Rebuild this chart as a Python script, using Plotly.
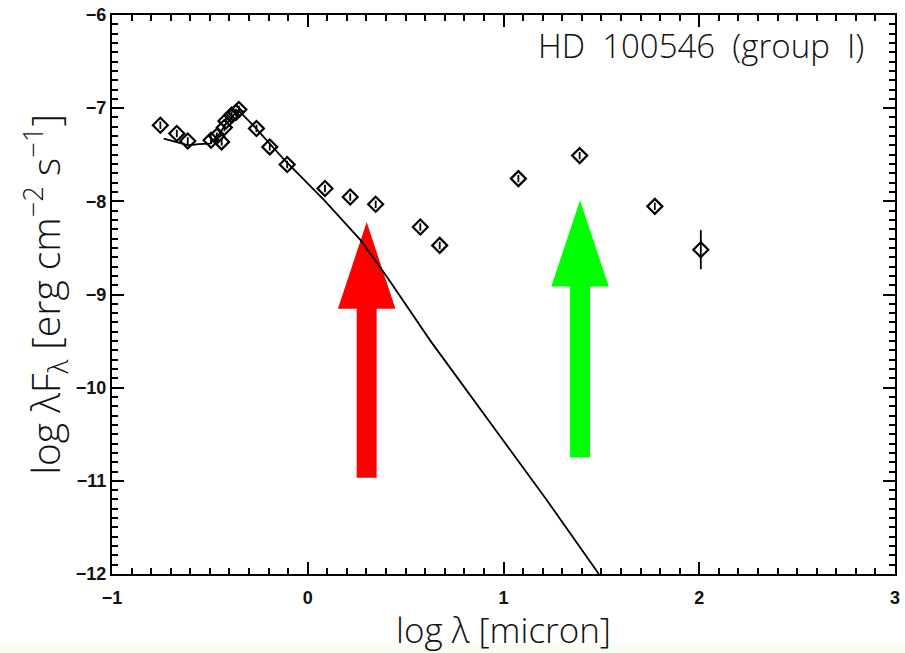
import plotly.graph_objects as go

# Photometry of HD 100546: log wavelength [micron] vs log lambda*F_lambda
log_wav = [-0.753, -0.669, -0.613, -0.494, -0.465, -0.440, -0.426, -0.418,
           -0.389, -0.367, -0.352, -0.262, -0.194, -0.105, 0.088, 0.217,
           0.347, 0.575, 0.674, 1.076, 1.389, 1.773, 2.008]
log_flux = [-7.183, -7.272, -7.352, -7.344, -7.301, -7.362, -7.208, -7.137,
            -7.075, -7.046, -7.014, -7.218, -7.416, -7.605, -7.863, -7.954,
            -8.032, -8.276, -8.473, -7.756, -7.509, -8.054, -8.519]
log_flux_err = [0.04] * 22 + [0.21]

# Stellar photosphere model
model_wav = [-0.736, -0.609, -0.558, -0.499, -0.457, -0.423, -0.364, -0.355,
             -0.271, -0.118, 0.085, 0.271, 0.406, 0.626, 1.218, 1.487]
model_flux = [-7.326, -7.398, -7.387, -7.380, -7.290, -7.183, -7.040, -7.022,
              -7.201, -7.559, -7.989, -8.419, -8.814, -9.495, -11.197, -12.0]

# Highlight arrows: (x, tip, head base, tail, colour)
arrows = [
    (0.301, -8.223, -9.154, -10.968, "#ff0000"),
    (1.391, -7.989, -8.914, -10.749, "#00ff00"),
]
head_half = 0.147   # half width of arrow head, in log-wavelength units
shaft_half = 0.051  # half width of arrow shaft

x_range = [-1, 3]
y_range = [-12, -6]

label_font = "'Open Sans', Lato, sans-serif"
tick_font = dict(family="Liberation Sans, Arial, sans-serif", size=18,
                 color="#111", weight=700)

fig = go.Figure()

fig.add_trace(go.Scatter(
    x=model_wav, y=model_flux, mode="lines",
    line=dict(color="black", width=1.8), showlegend=False, hoverinfo="skip",
))

fig.add_trace(go.Scatter(
    x=log_wav, y=log_flux, mode="markers",
    marker=dict(symbol="diamond-open", size=11.5, color="black",
                line=dict(width=2.2, color="black")),
    error_y=dict(type="data", array=log_flux_err, visible=True,
                 color="black", thickness=1.8, width=0),
    showlegend=False,
))

# empty trace that carries the overlaid minor-tick axes
fig.add_trace(go.Scatter(x=[None], y=[None], xaxis="x2", yaxis="y2",
                         showlegend=False, hoverinfo="skip"))

shapes = []
for xc, tip, base, tail, col in arrows:
    path = (f"M {xc - shaft_half},{tail} L {xc - shaft_half},{base} "
            f"L {xc - head_half},{base} L {xc},{tip} L {xc + head_half},{base} "
            f"L {xc + shaft_half},{base} L {xc + shaft_half},{tail} Z")
    shapes.append(dict(type="path", path=path, xref="x", yref="y",
                       fillcolor=col, line=dict(width=0), layer="below"))

# faint strip along the bottom of the page
shapes.append(dict(type="rect", xref="paper", yref="paper",
                   x0=-0.2, x1=1.1, y0=-0.145, y1=-0.125,
                   fillcolor="rgb(248,252,241)", line=dict(width=0), layer="below"))

axis_common = dict(
    showgrid=False, zeroline=False,
    showline=True, linecolor="black", linewidth=2,
    mirror="allticks", ticks="inside", ticklen=12, tickwidth=2,
    tickcolor="black", tickmode="linear", dtick=1,
)
minor_axis = dict(
    showgrid=False, zeroline=False, showline=False, showticklabels=False,
    mirror="allticks", ticks="inside", ticklen=6, tickwidth=1.5,
    tickcolor="black", tickmode="linear", dtick=0.1,
)

fig.update_layout(
    width=905, height=653,
    margin=dict(l=112, r=5, t=14, b=79),
    paper_bgcolor="white", plot_bgcolor="white",
    shapes=shapes,
    xaxis=dict(
        range=x_range, tick0=-1, tickfont=tick_font, ticklabelstandoff=6,
        title=dict(text="log λ [micron]",
                   font=dict(family=label_font, size=35, color="#111", weight=300),
                   standoff=0),
        **axis_common,
    ),
    yaxis=dict(
        range=y_range, tick0=-12, tickfont=tick_font,
        title=dict(text="log λF<sub>λ</sub> [erg cm<sup>−2</sup> s<sup>−1</sup>]",
                   font=dict(family=label_font, size=39, color="#111", weight=300),
                   standoff=2),
        **axis_common,
    ),
    xaxis2=dict(overlaying="x", anchor="y2", side="bottom", range=x_range,
                tick0=-1, **minor_axis),
    yaxis2=dict(overlaying="y", anchor="x2", side="left", range=y_range,
                tick0=-12, **minor_axis),
    annotations=[dict(
        text="HD  100546  (group  I)", xref="paper", yref="paper",
        x=0.963, y=0.99, xanchor="right", yanchor="top", showarrow=False,
        font=dict(family=label_font, size=33, color="#111", weight=300),
    )],
)

fig.write_html("out.html")
